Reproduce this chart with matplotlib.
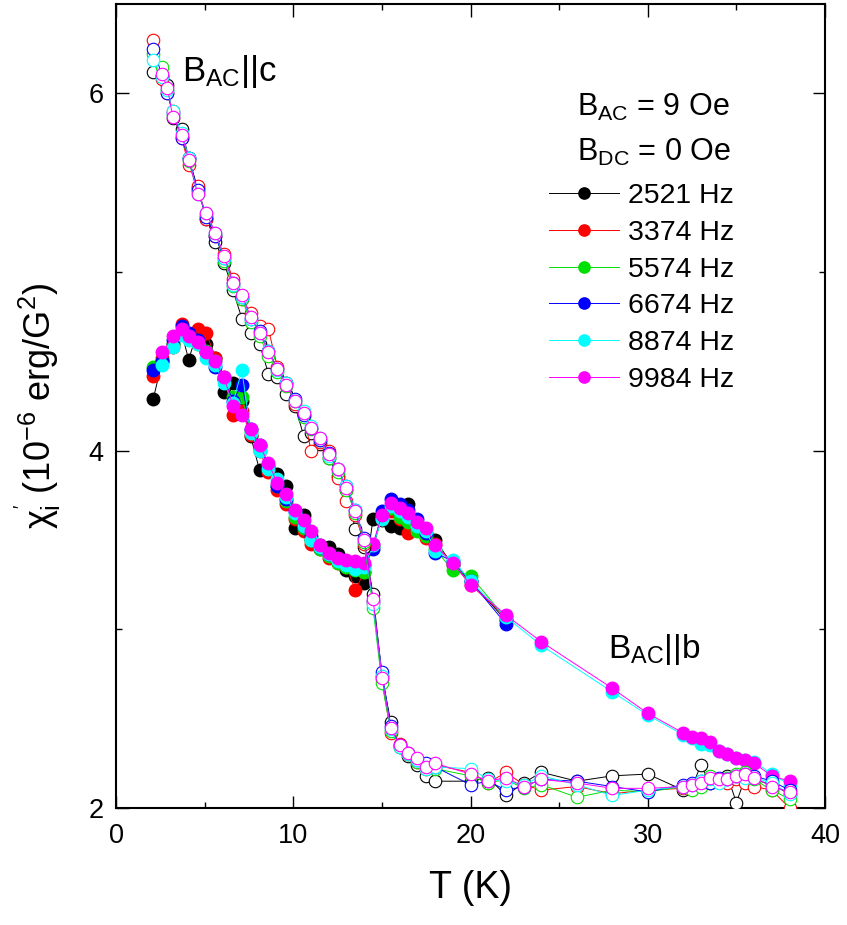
import matplotlib
matplotlib.use("Agg")
import matplotlib.pyplot as plt
import numpy as np

plt.rcParams['font.family'] = ['Liberation Sans', 'DejaVu Sans']
plt.rcParams['mathtext.fontset'] = 'custom'
plt.rcParams['mathtext.rm'] = 'Liberation Sans'
plt.rcParams['mathtext.it'] = 'Liberation Sans'
plt.rcParams['mathtext.bf'] = 'Liberation Sans:bold'

nan = np.nan
freqs = ["2521 Hz", "3374 Hz", "5574 Hz", "6674 Hz", "8874 Hz", "9984 Hz"]
colors = ["#000000", "#ff0000", "#00e000", "#0000ff", "#00ffff", "#ff00ff"]

# B_AC || b  (filled symbols)
T_b = [2.1, 2.6, 3.2, 3.7, 4.1, 4.6, 5.1, 5.6, 6.1, 6.6, 7.1, 7.6, 8.1, 8.6, 9.1, 9.6,
       10.1, 10.6, 11.0, 11.5, 12.0, 12.5, 13.0, 13.5, 14.0, 14.5, 15.0, 15.5, 16.0,
       16.5, 17.0, 17.5, 18.0, 19.0, 20.0, 22.0]
T_b_hi = [24, 28, 30, 32, 32.5, 33, 33.5, 34, 34.5, 35, 35.5, 36, 37, 38]

chi_b_2521 = [4.29, 4.50, 4.60, 4.66, 4.51, 4.67, 4.60, 4.52, 4.33, 4.38, 4.28, 4.08, 3.89, 3.90,
              3.87, 3.80, 3.57, 3.64, 3.50, 3.47, 3.46, 3.42, 3.33, 3.30, 3.26, 3.62, 3.61, 3.58,
              3.57, 3.70, 3.58, 3.52, 3.50, 3.36, 3.27, 3.05]
chi_b_3374 = [4.42, 4.52, 4.58, 4.71, 4.65, 4.68, 4.66, 4.52, 4.41, 4.20, 4.22, 4.09, 4.00, 3.88,
              3.78, 3.70, 3.62, 3.55, 3.48, 3.45, 3.40, 3.37, 3.35, 3.22, 3.32, 3.47, 3.62, 3.66,
              3.62, 3.54, 3.58, 3.51, 3.48, 3.37, 3.25, 3.07]
chi_b_5574 = [4.47, 4.50, 4.60, 4.66, 4.65, 4.60, 4.56, 4.50, 4.40, 4.30, 4.30, 4.11, 4.02, 3.92,
              3.80, 3.72, 3.63, 3.57, 3.50, 3.45, 3.41, 3.37, 3.35, 3.33, 3.32, 3.46, 3.63, 3.68,
              3.63, 3.60, 3.55, 3.52, 3.45, 3.33, 3.30, 3.06]
chi_b_6674 = [4.45, 4.50, 4.62, 4.70, 4.66, 4.62, 4.55, 4.47, 4.40, 4.28, 4.37, 4.12, 4.03, 3.91,
              3.80, 3.73, 3.66, 3.58, 3.52, 3.46, 3.42, 3.40, 3.38, 3.36, 3.36, 3.45, 3.66, 3.73,
              3.70, 3.67, 3.62, 3.54, 3.43, 3.38, 3.27, 3.03]
chi_b_8874 = [nan, 4.48, 4.58, 4.65, 4.62, 4.60, 4.52, 4.48, 4.38, 4.27, 4.45, 4.10, 4.00, 3.90,
              3.84, 3.74, 3.65, 3.58, 3.50, 3.46, 3.42, 3.38, 3.36, 3.34, 3.35, 3.47, 3.62, 3.69,
              3.66, 3.63, 3.58, 3.55, 3.44, 3.39, 3.27, 3.07,
              2.91, 2.65, 2.52, 2.41, 2.39, 2.36, 2.35, 2.32, 2.30, 2.28, 2.27, 2.26, 2.19, 2.13]
chi_b_9984 = [nan, 4.55, 4.64, 4.68, 4.64, 4.61, 4.55, 4.50, 4.41, 4.25, 4.20, 4.12, 4.03, 3.93,
              3.82, 3.76, 3.67, 3.61, 3.55, 3.47, 3.43, 3.40, 3.39, 3.38, 3.37, 3.48, 3.64, 3.71,
              3.68, 3.65, 3.60, 3.57, 3.47, 3.37, 3.25, 3.08,
              2.93, 2.67, 2.53, 2.42, 2.40, 2.39, 2.37, 2.32, 2.30, 2.28, 2.27, 2.25, 2.18, 2.15]

# B_AC || c  (open symbols)
T_c = [2.1, 2.6, 2.9, 3.2, 3.7, 4.1, 4.6, 5.1, 5.6, 6.1, 6.6, 7.1, 7.6, 8.1, 8.6, 9.1, 9.6,
       10.1, 10.6, 11.0, 11.5, 12.0, 12.5, 13.0, 13.5, 14.0, 14.5, 15.0, 15.5, 16.0, 16.5,
       17.0, 17.5, 18.0, 20, 21, 22, 23, 24, 26, 28, 30, 32, 32.5, 33, 33.5, 34, 34.5, 35,
       35.5, 36, 37, 38]

chi_c_2521 = [6.12, 6.10, 6.05, 5.86, 5.80, 5.64, 5.47, 5.30, 5.17, 5.05, 4.90, 4.74, 4.66, 4.60,
              4.43, 4.41, 4.32, 4.25, 4.08, 4.10, 4.04, 3.96, 3.86, 3.78, 3.56, 3.46, 3.20, 2.74,
              2.48, 2.34, 2.29, 2.24, 2.18, 2.15, 2.15, 2.17, 2.07, 2.14, 2.20, 2.15, 2.18, 2.19,
              2.10, 2.12, 2.24, 2.14, 2.16, 2.18, 2.03, 2.17, 2.16, 2.13, 2.08]
chi_c_3374 = [6.30, 6.08, 6.00, 5.90, 5.75, 5.60, 5.48, 5.30, 5.20, 5.10, 4.96, 4.85, 4.77, 4.70,
              4.68, 4.47, 4.38, 4.26, 4.20, 4.00, 4.05, 4.00, 3.85, 3.72, 3.64, 3.48, 3.15, 2.72,
              2.42, 2.36, 2.30, 2.26, 2.22, 2.24, 2.20, 2.14, 2.20, 2.13, 2.10, 2.12, 2.08, 2.10,
              2.11, 2.12, 2.13, 2.17, 2.15, 2.14, 2.16, 2.14, 2.12, 2.10, 2.00]
chi_c_5574 = [6.22, 6.15, 6.02, 5.88, 5.76, 5.62, 5.45, 5.32, 5.21, 5.06, 4.92, 4.85, 4.72, 4.64,
              4.53, 4.44, 4.36, 4.28, 4.19, 4.12, 4.06, 3.96, 3.88, 3.78, 3.65, 3.49, 3.12, 2.70,
              2.43, 2.34, 2.30, 2.26, 2.24, 2.22, 2.18, 2.14, 2.16, 2.11, 2.13, 2.06, 2.10, 2.09,
              2.12, 2.10, 2.12, 2.18, 2.15, 2.17, 2.19, 2.20, 2.16, 2.10, 2.05]
chi_c_6674 = [6.25, 6.10, 6.00, 5.89, 5.75, 5.64, 5.46, 5.31, 5.20, 5.08, 4.94, 4.86, 4.74, 4.67,
              4.56, 4.46, 4.38, 4.29, 4.20, 4.13, 4.06, 3.99, 3.90, 3.80, 3.67, 3.51, 3.16, 2.76,
              2.46, 2.35, 2.31, 2.27, 2.25, 2.23, 2.13, 2.15, 2.10, 2.12, 2.16, 2.15, 2.12, 2.09,
              2.13, 2.14, 2.15, 2.14, 2.17, 2.16, 2.18, 2.19, 2.18, 2.15, 2.10]
chi_c_8874 = [6.19, 6.09, 6.02, 5.90, 5.78, 5.64, 5.44, 5.33, 5.22, 5.08, 4.93, 4.86, 4.74, 4.66,
              4.56, 4.45, 4.38, 4.28, 4.22, 4.14, 4.07, 3.97, 3.90, 3.80, 3.67, 3.50, 3.14, 2.74,
              2.44, 2.34, 2.30, 2.27, 2.22, 2.23, 2.22, 2.16, 2.15, 2.13, 2.18, 2.13, 2.07, 2.10,
              2.12, 2.13, 2.15, 2.16, 2.14, 2.16, 2.18, 2.17, 2.17, 2.14, 2.08]
chi_c_9984 = [nan, 6.11, 6.03, 5.87, 5.77, 5.63, 5.44, 5.33, 5.22, 5.09, 4.94, 4.87, 4.75, 4.66,
              4.55, 4.46, 4.37, 4.28, 4.21, 4.13, 4.07, 3.98, 3.90, 3.79, 3.66, 3.50, 3.17, 2.73,
              2.45, 2.35, 2.31, 2.28, 2.23, 2.25, 2.19, 2.15, 2.17, 2.12, 2.16, 2.14, 2.11, 2.11,
              2.12, 2.13, 2.14, 2.17, 2.16, 2.16, 2.18, 2.19, 2.17, 2.12, 2.09]

chi_b = [chi_b_2521, chi_b_3374, chi_b_5574, chi_b_6674, chi_b_8874, chi_b_9984]
chi_c = [chi_c_2521, chi_c_3374, chi_c_5574, chi_c_6674, chi_c_8874, chi_c_9984]

fig = plt.figure(figsize=(8.47, 9.25), dpi=100)
ax = fig.add_axes([0.137, 0.1265, 0.837, 0.869])

handles = []
for i in range(6):
    xs = T_b + T_b_hi if len(chi_b[i]) > len(T_b) else T_b
    h, = ax.plot(xs, chi_b[i], '-o', color=colors[i], lw=0.7, ms=9,
                 mec=colors[i], mfc=colors[i], zorder=2 + i * 0.1)
    handles.append(h)
for i in range(6):
    ax.plot(T_c, chi_c[i], '-o', color=colors[i], lw=0.7, ms=9, mew=0.8,
            mec=colors[i], mfc='white', zorder=3 + i * 0.1)

ax.set_xlim(0, 40)
ax.set_ylim(2, 6.5)
ax.set_xticks([0, 10, 20, 30, 40])
ax.set_xticks([5, 15, 25, 35], minor=True)
ax.set_yticks([2, 4, 6])
ax.set_yticks([3, 5], minor=True)
ax.tick_params(which='both', direction='in', top=True, right=True, labelsize=19.5)
ax.tick_params(which='major', length=9, width=1.0)
ax.tick_params(which='minor', length=4.5, width=1.0)
ax.tick_params(axis='x', pad=11)
ax.tick_params(axis='y', pad=9)
for s in ax.spines.values():
    s.set_linewidth(1.5)

ax.set_xlabel("T (K)", fontsize=27)
ax.set_ylabel(r"$\chi_{\rm i}^{'}$ (10$^{-6}$ erg/G$^{2}$)", fontsize=26)
ax.xaxis.set_label_coords(0.5, -0.077)
ax.yaxis.set_label_coords(-0.074, 0.5)

ax.text(3.72, 6.07, r"B$_{\rm AC}$||c", fontsize=25, va='baseline')
ax.text(27.75, 2.84, r"B$_{\rm AC}$||b", fontsize=24, va='baseline')
ax.text(26.0, 5.877, r"B$_{\rm AC}$ = 9 Oe", fontsize=22, va='baseline')
ax.text(26.0, 5.625, r"B$_{\rm DC}$ = 0 Oe", fontsize=22, va='baseline')

ax.legend(handles, freqs, loc='upper left', bbox_to_anchor=(549 / 847, 1 - 183 / 925),
          bbox_transform=fig.transFigure, frameon=False, fontsize=20.5, numpoints=1,
          handlelength=2.45, handletextpad=0.32, labelspacing=0.38, borderpad=0,
          borderaxespad=0, markerscale=0.9)

fig.savefig("out.png", dpi=100)
